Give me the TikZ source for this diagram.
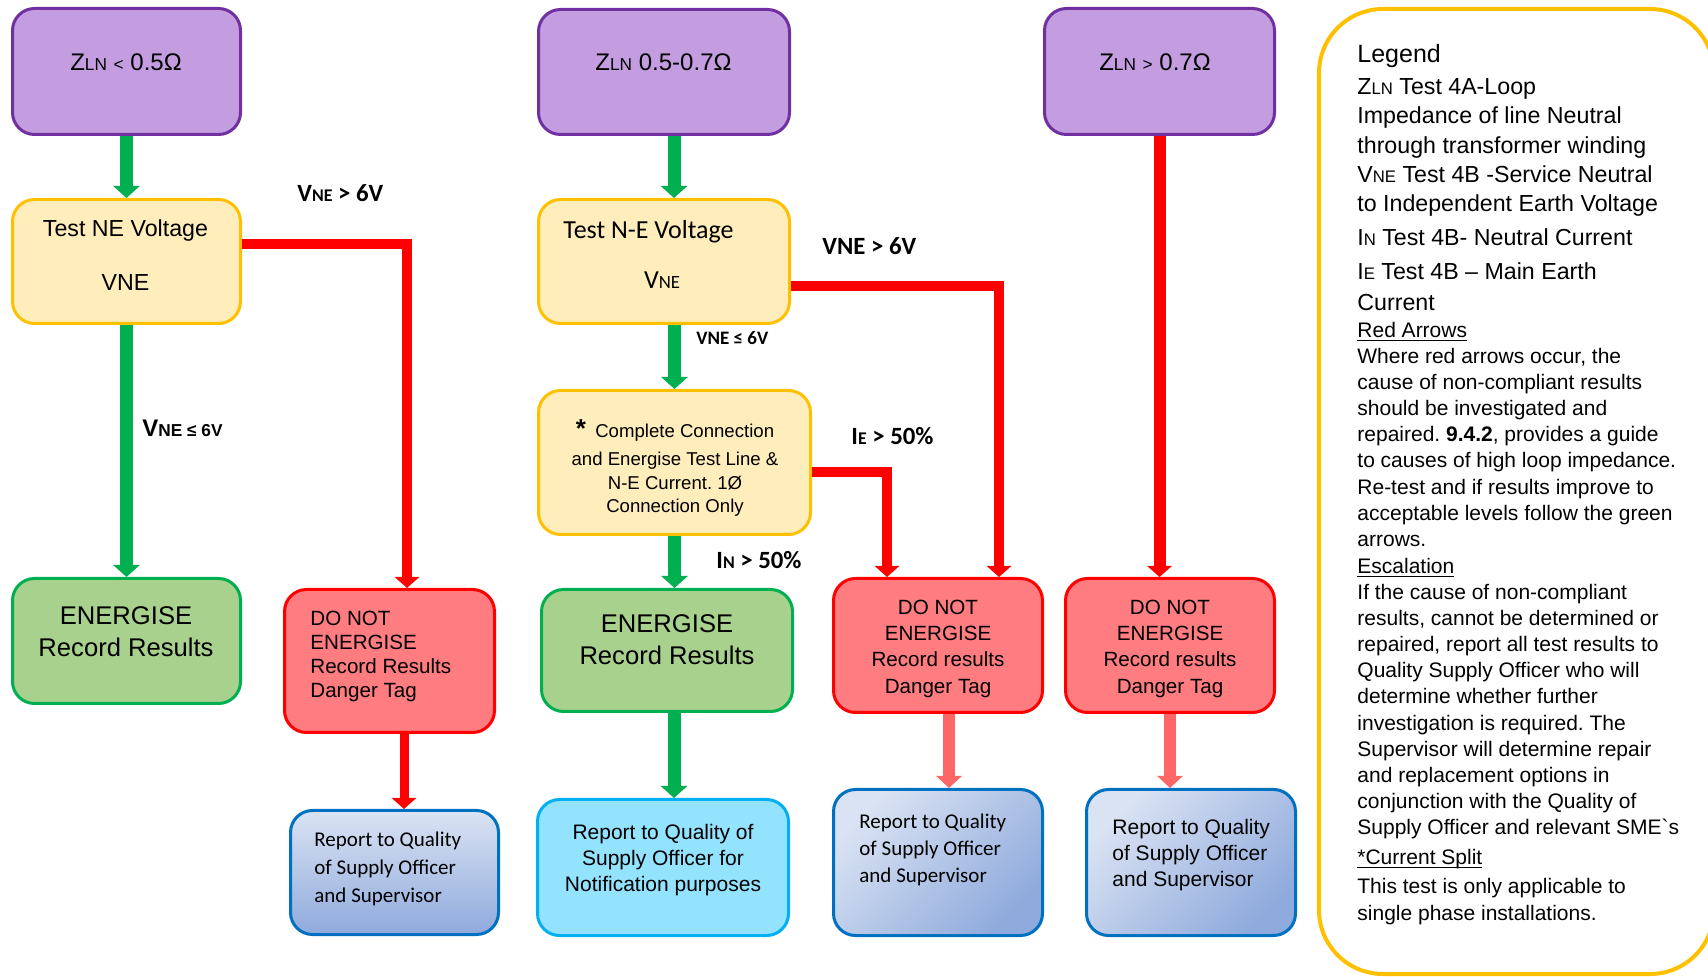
\documentclass[tikz,border=0pt]{standalone}
\usepackage{fontspec}
\setmainfont{Liberation Sans}
\newfontfamily\calibri{Carlito}
\usetikzlibrary{arrows.meta,calc}
\frenchspacing
\definecolor{Plum}{HTML}{C49DE0}
\definecolor{PlumEdge}{HTML}{7030A0}
\definecolor{Cream}{HTML}{FFEDBB}
\definecolor{Amber}{HTML}{FFC000}
\definecolor{Leaf}{HTML}{A9D18E}
\definecolor{Go}{HTML}{00B050}
\definecolor{Salmon}{HTML}{FF7C80}
\definecolor{Stop}{HTML}{FF0000}
\definecolor{SoftStop}{HTML}{FF6666}
\definecolor{IceTop}{HTML}{DAE3F3}
\definecolor{IceLow}{HTML}{8FAADC}
\definecolor{Navy}{HTML}{0070C0}
\definecolor{Sky}{HTML}{93E3FE}
\definecolor{SkyEdge}{HTML}{00B0F0}
\newcommand{\lowcaps}[1]{\scalebox{0.72}{#1}}
\tikzset{
  box/.style={rounded corners=11pt, line width=1.5pt, inner sep=0pt},
  limit/.style={box, draw=PlumEdge, fill=Plum},
  check/.style={box, draw=Amber, fill=Cream},
  pass/.style={box, draw=Go, fill=Leaf},
  fail/.style={box, draw=Stop, fill=Salmon},
  report/.style={box, draw=Navy, top color=IceTop, bottom color=IceLow},
  notify/.style={box, draw=SkyEdge, fill=Sky},
  txt/.style={inner sep=0pt, anchor=base, align=center},
  ltxt/.style={inner sep=0pt, anchor=base west, align=left},
  cond/.style={inner sep=0pt, anchor=base west,
    font=\calibri\bfseries\fontsize{12.4}{14}\selectfont},
  goflow/.style={-{Triangle[width=13pt,length=6pt]}, line width=6.5pt, draw=Go},
  stopflow/.style={-{Triangle[width=12pt,length=5.5pt]}, line width=5pt, draw=Stop},
  softflow/.style={-{Triangle[width=12.5pt,length=6pt]}, line width=6pt, draw=SoftStop}
}
\begin{document}
\begin{tikzpicture}[x=0.5pt,y=-0.5pt]
  \useasboundingbox (0,0) rectangle (1708,977);

  % boxes
  \node[limit,minimum width=114pt,minimum height=63pt] (zA) at (126.5,71.5) {};
  \node[limit,minimum width=125.5pt,minimum height=62.5pt] (zB) at (664,72) {};
  \node[limit,minimum width=115pt,minimum height=63pt] (zC) at (1159.5,71.5) {};
  \node[check,minimum width=114pt,minimum height=62pt] (neA) at (126.5,261.5) {};
  \node[check,minimum width=125.5pt,minimum height=62pt] (neB) at (664,261.5) {};
  \node[check,minimum width=136pt,minimum height=72pt] (split) at (674.5,462.5) {};
  \node[pass,minimum width=114pt,minimum height=62.5pt] (goA) at (126.5,641) {};
  \node[pass,minimum width=125.5pt,minimum height=61pt] (goB) at (667,650.5) {};
  \node[fail,minimum width=105pt,minimum height=71.5pt] (stopA) at (389.5,661) {};
  \node[fail,minimum width=104.5pt,minimum height=67pt] (stopB) at (938,645.5) {};
  \node[fail,minimum width=104.5pt,minimum height=67pt] (stopC) at (1170,645.5) {};
  \node[report,minimum width=104pt,minimum height=62pt] (repA) at (394.5,872.5) {};
  \node[notify,minimum width=125.5pt,minimum height=68pt] (repB) at (663,867.5) {};
  \node[report,shading angle=45,minimum width=104.5pt,minimum height=73pt] (repC) at (938,862.5) {};
  \node[report,shading angle=45,minimum width=104.5pt,minimum height=73pt] (repD) at (1191,862.5) {};
  \node[draw=Amber,line width=2pt,fill=white,rounded corners=32pt,
    minimum width=197.5pt,minimum height=482.5pt] (legend) at (1516.5,491.5) {};

  % box texts (placed at the baseline of their last line)
  \node[txt,font=\fontsize{12}{14}\selectfont] (zAt) at (126,71)
    {Z\lowcaps{LN} \lowcaps{<} 0.5Ω};
  \node[txt,font=\fontsize{12}{14}\selectfont] (zBt) at (663.5,71)
    {Z\lowcaps{LN} 0.5-0.7Ω};
  \node[txt,font=\fontsize{12}{14}\selectfont] (zCt) at (1155,71)
    {Z\lowcaps{LN} \lowcaps{>} 0.7Ω};
  \node[txt,font=\fontsize{11.6}{27}\selectfont] (neAt) at (125.5,291)
    {Test NE Voltage\\VNE};
  \node[txt,font=\calibri\fontsize{13}{15}\selectfont] (neBt) at (648.5,239)
    {Test N-E Voltage};
  \node[txt,font=\calibri\fontsize{13}{15}\selectfont] (neBv) at (662,288.6)
    {V\lowcaps{NE}};
  \node[txt,font=\fontsize{9.3}{11.75}\selectfont] (splitt) at (675,513)
    {{\fontsize{13}{13}\selectfont\bfseries *}\enspace Complete Connection\\[2.5pt]
     and Energise Test Line \&\\N-E Current. 1Ø\\Connection Only};
  \node[txt,font=\fontsize{12.8}{16}\selectfont] (goAt) at (126,657)
    {ENERGISE\\Record Results};
  \node[txt,font=\fontsize{12.8}{16}\selectfont] (goBt) at (667,664.7)
    {ENERGISE\\Record Results};
  \node[ltxt,font=\fontsize{10.3}{12}\selectfont] (stopAt) at (310,698)
    {DO NOT\\ENERGISE\\Record Results\\Danger Tag};
  \node[txt,font=\fontsize{10.3}{13.15}\selectfont] (stopBt) at (938,693.2)
    {DO NOT\\ENERGISE\\Record results\\Danger Tag};
  \node[txt,font=\fontsize{10.3}{13.15}\selectfont] (stopCt) at (1170,693.2)
    {DO NOT\\ENERGISE\\Record results\\Danger Tag};
  \node[ltxt,font=\calibri\fontsize{10.5}{14}\selectfont] (repAt) at (314,902.7)
    {Report to Quality\\of Supply Officer\\and Supervisor};
  \node[txt,font=\fontsize{10.5}{13}\selectfont] (repBt) at (663,891.3)
    {Report to Quality of\\Supply Officer for\\Notification purposes};
  \node[ltxt,font=\calibri\fontsize{10.5}{13.6}\selectfont] (repCt) at (859,882.7)
    {Report to Quality\\of Supply Officer\\and Supervisor};
  \node[ltxt,font=\fontsize{10.5}{13}\selectfont] (repDt) at (1112,886)
    {Report to Quality\\of Supply Officer\\and Supervisor};

  % legend texts
  \node[ltxt,font=\fontsize{11.6}{14.7}\selectfont] (legA) at (1357,310.7)
    {{\fontsize{12.5}{14.7}\selectfont Legend}\\[1.2pt]
     Z\lowcaps{LN} Test 4A-Loop\\
     Impedance of line Neutral\\
     through transformer winding\\
     V\lowcaps{NE} Test 4B -Service Neutral\\
     to Independent Earth Voltage\\[2.3pt]
     I\lowcaps{N} Test 4B- Neutral Current\\[2pt]
     I\lowcaps{E} Test 4B -- Main Earth\\[1pt]
     Current};
  \node[ltxt,font=\fontsize{10.5}{13.05}\selectfont] (legB) at (1357,920)
    {\underline{\smash{Red Arrows}}\\
     Where red arrows occur, the\\
     cause of non-compliant results\\
     should be investigated and\\
     repaired. \textbf{9.4.2}, provides a guide\\
     to causes of high loop impedance.\\
     Re-test and if results improve to\\
     acceptable levels follow the green\\
     arrows.\\[0.6pt]
     \underline{\smash{Escalation}}\\
     If the cause of non-compliant\\
     results, cannot be determined or\\
     repaired, report all test results to\\
     Quality Supply Officer who will\\
     determine whether further\\
     investigation is required. The\\
     Supervisor will determine repair\\
     and replacement options in\\
     conjunction with the Quality of\\
     Supply Officer and relevant SME\textasciigrave s\\[2pt]
     \underline{\smash{*Current Split}}\\[1.6pt]
     This test is only applicable to\\
     single phase installations.};

  % condition labels
  \node[cond] (vneHighA) at (297,201.7) {V\lowcaps{NE} > 6V};
  \node[cond,font=\bfseries\fontsize{12}{14}\selectfont] (vneLowA) at (142,436.7)
    {V\lowcaps{NE ≤ 6V}};
  \node[cond] (vneHighB) at (822,254.3) {VNE > 6V};
  \node[cond,font=\calibri\bfseries\fontsize{9.5}{11}\selectfont] (vneLowB) at (696,344.6)
    {VNE ≤ 6V};
  \node[cond] (ieHigh) at (851,444.6) {I\lowcaps{E} > 50\%};
  \node[cond] (inHigh) at (716,569) {I\lowcaps{N} > 50\%};

  % connectors
  \draw[goflow] (zA.south) -- (neA.north);
  \draw[goflow] (neA.south) -- (goA.north);
  \draw[stopflow] ([yshift=8.75pt]neA.east) -| ([xshift=8.75pt]stopA.north);
  \draw[stopflow,line width=4.5pt] ([xshift=7.25pt]stopA.south)
    -- ([xshift=7.25pt]stopA.south |- repA.north);
  \draw[goflow] ([xshift=5pt]zB.south) -- ([xshift=5pt]zB.south |- neB.north);
  \draw[goflow] (split.north |- neB.south) -- (split.north);
  \draw[stopflow] ([yshift=-12.25pt]neB.east) -| ([xshift=30.5pt]stopB.north);
  \draw[goflow] (split.south) -- (split.south |- goB.north);
  \draw[stopflow] ([yshift=-4.75pt]split.east) -| ([xshift=-25.5pt]stopB.north);
  \draw[stopflow,line width=6pt] (zC.south) -- (zC.south |- stopC.north);
  \draw[goflow] ([xshift=3.5pt]goB.south) -- ([xshift=3.5pt]goB.south |- repB.north);
  \draw[softflow] ([xshift=5.5pt]stopB.south) -- ([xshift=5.5pt]stopB.south |- repC.north);
  \draw[softflow] (stopC.south) -- (stopC.south |- repD.north);
\end{tikzpicture}
\end{document}
